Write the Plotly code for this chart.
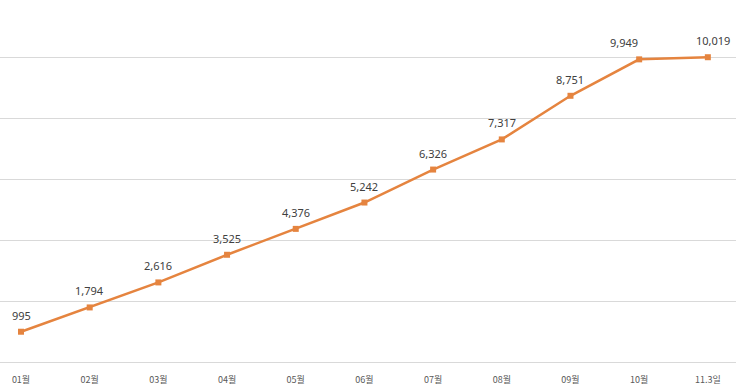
import plotly.graph_objects as go

categories = ["01월", "02월", "03월", "04월", "05월", "06월", "07월", "08월", "09월", "10월", "11.3일"]
values = [995, 1794, 2616, 3525, 4376, 5242, 6326, 7317, 8751, 9949, 10019]
grid_vals = [0, 2000, 4000, 6000, 8000, 10000]

idx = list(range(len(categories)))
labels = [f"{v:,}" for v in values]
orange = "#E5843F"

fig = go.Figure()
fig.add_trace(go.Scatter(
    x=idx, y=values, mode="lines+markers",
    line=dict(color=orange, width=2.5),
    marker=dict(symbol="square", size=6, color=orange),
    hoverinfo="skip", showlegend=False, cliponaxis=False,
))

xshift = {9: -15, 10: 5}
for i, (v, t) in enumerate(zip(values, labels)):
    fig.add_annotation(
        x=i, y=v, text=t, showarrow=False, yanchor="bottom",
        yshift=7, xshift=xshift.get(i, 0),
        font=dict(family="Noto Sans, DejaVu Sans, sans-serif", size=11, color="#404040"),
    )

fig.update_layout(
    width=736, height=392,
    margin=dict(l=0, r=0, t=0, b=30, autoexpand=False),
    paper_bgcolor="white", plot_bgcolor="white",
    xaxis=dict(
        range=[-0.306, 10.41], tickmode="array", tickvals=idx, ticktext=categories,
        showgrid=False, zeroline=False, showline=True, linecolor="#D9D9D9", linewidth=1,
        ticks="", automargin=False, ticklabelstandoff=9,
        tickfont=dict(family="Noto Sans CJK KR, sans-serif", size=9, color="#595959"),
    ),
    yaxis=dict(
        range=[0, 11900], tickmode="array", tickvals=grid_vals, showticklabels=False,
        showgrid=True, gridcolor="#D9D9D9", gridwidth=1, zeroline=False, showline=False,
        automargin=False,
    ),
)

fig.write_html(
    "out.html",
    config={"displayModeBar": False},
    post_script="document.body.style.margin='0';document.body.style.overflow='hidden';",
)
